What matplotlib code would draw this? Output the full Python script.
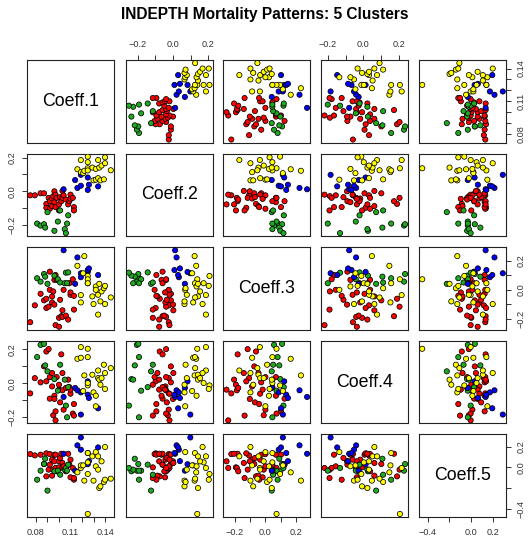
import numpy as np
import matplotlib.pyplot as plt

plt.rcParams['font.family'] = ['Liberation Sans', 'DejaVu Sans']

names = ['Coeff.1', 'Coeff.2', 'Coeff.3', 'Coeff.4', 'Coeff.5']
cluster_colors = ['#FF0000', '#1EAA1E', '#0000FF', '#FFFF00']

# cluster 1 (red)
red_c1 = [0.075, 0.079, 0.084, 0.087, 0.089, 0.089, 0.091, 0.092, 0.092, 0.094, 0.094, 0.095, 0.096, 0.096, 0.097, 0.097,
          0.098, 0.100, 0.100, 0.101, 0.102, 0.103, 0.103, 0.104, 0.106, 0.108, 0.109, 0.110, 0.110, 0.112, 0.113, 0.113]
red_c2 = [-0.024, -0.024, -0.012, -0.012, -0.075, -0.098, -0.039, -0.059, -0.104, -0.043, -0.088, -0.029, -0.065, 0.0, -0.020, -0.094,
          -0.039, -0.078, -0.114, -0.035, -0.059, 0.002, -0.039, -0.024, -0.049, -0.078, -0.059, -0.020, -0.045, -0.039, -0.094, -0.114]
red_c3 = [-0.221, -0.106, -0.027, -0.072, -0.061, -0.124, -0.115, 0.124, 0.0, -0.086, -0.045, -0.011, 0.068, -0.101, -0.241, 0.101,
          0.068, -0.252, -0.191, -0.068, -0.180, -0.140, -0.185, 0.0, -0.176, -0.203, 0.045, -0.034, -0.018, 0.072, -0.041, -0.135]
red_c4 = [-0.059, 0.031, 0.006, 0.100, 0.188, 0.012, 0.202, -0.090, 0.037, -0.018, 0.061, -0.188, -0.073, -0.092, -0.218, -0.165,
          0.037, -0.037, -0.008, -0.112, 0.171, 0.061, -0.041, -0.155, -0.027, 0.022, -0.022, -0.061, -0.037, -0.178, -0.122, -0.190]
red_c5 = [0.128, 0.115, 0.122, 0.032, -0.087, 0.135, -0.022, 0.026, 0.128, 0.074, -0.080, -0.022, 0.122, 0.058, -0.006, 0.122,
          -0.038, 0.058, 0.0, 0.090, 0.131, 0.042, -0.006, 0.010, -0.038, 0.131, 0.026, 0.074, -0.096, -0.006, -0.119, -0.103]

# cluster 2 (green)
green_c1 = [0.081, 0.084, 0.087, 0.088, 0.090, 0.096, 0.099, 0.101, 0.105, 0.106, 0.107, 0.108]
green_c2 = [-0.192, -0.204, -0.196, -0.216, -0.124, -0.235, -0.180, -0.114, -0.225, -0.249, -0.192, -0.143]
green_c3 = [0.079, 0.056, 0.108, 0.090, 0.041, 0.097, 0.072, 0.050, 0.045, 0.117, 0.045, 0.119]
green_c4 = [0.155, 0.227, 0.233, 0.106, 0.071, 0.025, -0.043, 0.110, 0.022, -0.131, -0.200, -0.022]
green_c5 = [-0.119, -0.032, 0.032, 0.083, -0.224, -0.038, -0.032, -0.071, -0.022, -0.006, -0.032, 0.026]

# cluster 3 (blue)
blue_c1 = [0.104, 0.114, 0.116, 0.119, 0.119, 0.125, 0.125, 0.126, 0.134]
blue_c2 = [0.012, 0.067, 0.020, 0.098, 0.033, 0.082, 0.008, 0.039, 0.029]
blue_c3 = [0.270, 0.041, 0.221, 0.113, 0.086, 0.122, 0.135, 0.146, 0.101]
blue_c4 = [-0.080, -0.027, -0.041, -0.184, -0.053, 0.012, -0.067, -0.086, -0.147]
blue_c5 = [0.131, -0.032, 0.212, 0.288, 0.170, 0.030, 0.138, 0.060, 0.192]

# cluster 4 (yellow)
yellow_c1 = [0.116, 0.119, 0.119, 0.121, 0.122, 0.125, 0.125, 0.125, 0.125, 0.129, 0.130,
             0.132, 0.132, 0.134, 0.134, 0.135, 0.136, 0.137, 0.139, 0.140, 0.140, 0.145]
yellow_c2 = [0.131, 0.186, 0.114, 0.108, 0.122, 0.206, 0.173, 0.137, 0.124, 0.141, 0.065,
             0.133, 0.069, 0.186, 0.078, 0.141, 0.065, 0.153, 0.071, 0.202, 0.167, 0.125]
yellow_c3 = [0.164, -0.036, -0.086, 0.113, 0.230, 0.095, 0.045, 0.072, 0.045, -0.045, -0.097,
             0.023, 0.0, -0.169, -0.034, 0.041, -0.079, -0.011, 0.011, 0.027, -0.097, -0.052]
yellow_c4 = [0.145, 0.214, 0.151, -0.045, 0.047, -0.012, 0.002, 0.204, 0.155, 0.051, -0.053,
             -0.073, -0.135, 0.076, 0.031, 0.022, -0.008, 0.031, 0.110, -0.033, 0.061, 0.090]
yellow_c5 = [-0.048, -0.006, 0.019, 0.019, -0.128, -0.064, 0.048, -0.449, 0.138, 0.106, -0.128,
             0.010, 0.147, 0.106, -0.022, -0.199, -0.183, 0.058, -0.141, -0.119, 0.196, -0.109]

# axis ticks and which of them get a label
tick_pos = [
    [0.08, 0.09, 0.10, 0.11, 0.12, 0.13, 0.14],
    [-0.2, -0.1, 0.0, 0.1, 0.2],
    [-0.2, -0.1, 0.0, 0.1, 0.2],
    [-0.2, -0.1, 0.0, 0.1, 0.2],
    [-0.4, -0.2, 0.0, 0.2],
]
tick_lab = [
    [0.08, 0.11, 0.14],
    [-0.2, 0.0, 0.2],
    [-0.2, 0.0, 0.2],
    [-0.2, 0.0, 0.2],
    [-0.4, 0.0, 0.2],
]
tick_fmt = ['%.2f', '%.1f', '%.1f', '%.1f', '%.1f']

clusters = [
    (red_c1, red_c2, red_c3, red_c4, red_c5),
    (green_c1, green_c2, green_c3, green_c4, green_c5),
    (blue_c1, blue_c2, blue_c3, blue_c4, blue_c5),
    (yellow_c1, yellow_c2, yellow_c3, yellow_c4, yellow_c5),
]

data = [np.concatenate([np.array(c[k]) for c in clusters]) for k in range(5)]
colors = np.concatenate([[col] * len(c[0]) for c, col in zip(clusters, cluster_colors)])

# R style limits: data range plus 4% on each side
lims = []
for v in data:
    r = v.max() - v.min()
    lims.append((v.min() - 0.04 * r, v.max() + 0.04 * r))


def fmt(v, f):
    s = f % v
    if v < 0:
        s = '\u2212' + s[1:]
    return s


W, H = 529, 538
col_x = [27, 125.7, 223.3, 321.3, 419]
row_y = [60, 153.6, 247.2, 340.8, 434.4]
pw, ph = 87, 82.6

fig = plt.figure(figsize=(W / 100, H / 100), dpi=100)
fig.text(0.5, 1 - 15 / H, 'INDEPTH Mortality Patterns: 5 Clusters', ha='center', va='center',
         fontsize=11.2, fontweight='bold')

for i in range(5):
    for j in range(5):
        ax = fig.add_axes([col_x[j] / W, 1 - (row_y[i] + ph) / H, pw / W, ph / H])
        for sp in ax.spines.values():
            sp.set_linewidth(0.8)
            sp.set_color('#222222')
        ax.set_xlim(lims[j])
        ax.set_ylim(lims[i])
        ax.tick_params(length=3.6, width=0.7, color='#333333', labelsize=6.6, labelcolor='#333333', pad=4)
        ax.set_xticks([])
        ax.set_yticks([])

        if i == j:
            ax.text(0.5, 0.5, names[i], transform=ax.transAxes, ha='center', va='center', fontsize=12.8)
        else:
            ax.scatter(data[j], data[i], s=14, c=colors, edgecolors='black', linewidths=0.55, zorder=3)

        # axes on alternating sides, as in pairs()
        if i == 0 and j % 2 == 1:
            ax.set_xticks(tick_pos[j])
            ax.set_xticklabels([fmt(t, tick_fmt[j]) if t in tick_lab[j] else '' for t in tick_pos[j]])
            ax.xaxis.tick_top()
        if i == 4 and j % 2 == 0:
            ax.set_xticks(tick_pos[j])
            ax.set_xticklabels([fmt(t, tick_fmt[j]) if t in tick_lab[j] else '' for t in tick_pos[j]])
        if j == 0 and i % 2 == 1:
            ax.set_yticks(tick_pos[i])
            ax.set_yticklabels([fmt(t, tick_fmt[i]) if t in tick_lab[i] else '' for t in tick_pos[i]],
                               rotation=90, va='center')
        if j == 4 and i % 2 == 0:
            ax.set_yticks(tick_pos[i])
            ax.set_yticklabels([fmt(t, tick_fmt[i]) if t in tick_lab[i] else '' for t in tick_pos[i]],
                               rotation=90, va='center')
            ax.yaxis.tick_right()

fig.savefig('out.png', dpi=100)
